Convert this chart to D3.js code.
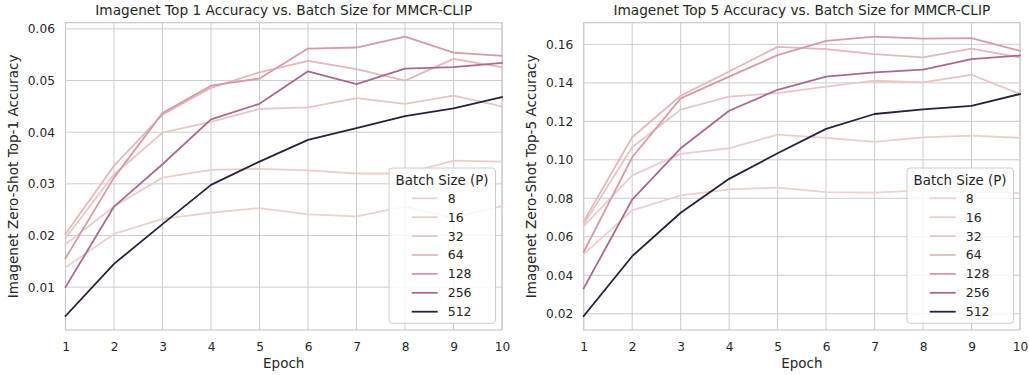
<!DOCTYPE html>
<html>
<head>
<meta charset="utf-8">
<script src="https://cdn.jsdelivr.net/npm/d3@7"></script>
<style>
  body { margin: 0; background: #fff; }
  text { font-family: "DejaVu Sans", sans-serif; fill: #262626; }
</style>
</head>
<body>
<svg id="chart" width="1029" height="375"></svg>
<script>
// Epochs en batch sizes
var epochs = [1, 2, 3, 4, 5, 6, 7, 8, 9, 10]
var batchSizes = [8, 16, 32, 64, 128, 256, 512]

// Top 1 accuracy per batch size
var top1_b8   = [0.0138, 0.0203, 0.0232, 0.0244, 0.0253, 0.0241, 0.0237, 0.0256, 0.0234, 0.0257]
var top1_b16  = [0.0183, 0.0256, 0.0312, 0.0327, 0.0329, 0.0326, 0.0320, 0.0320, 0.0345, 0.0343]
var top1_b32  = [0.0195, 0.0318, 0.0399, 0.0420, 0.0445, 0.0448, 0.0466, 0.0455, 0.0471, 0.0450]
var top1_b64  = [0.0203, 0.0335, 0.0434, 0.0486, 0.0516, 0.0538, 0.0522, 0.0500, 0.0542, 0.0526]
var top1_b128 = [0.0156, 0.0312, 0.0437, 0.0490, 0.0504, 0.0562, 0.0564, 0.0585, 0.0554, 0.0548]
var top1_b256 = [0.0100, 0.0256, 0.0338, 0.0425, 0.0455, 0.0518, 0.0493, 0.0523, 0.0526, 0.0534]
var top1_b512 = [0.0044, 0.0145, 0.0222, 0.0298, 0.0343, 0.0385, 0.0408, 0.0431, 0.0446, 0.0468]

// Top 5 accuracy per batch size
var top5_b8   = [0.0509, 0.0737, 0.0815, 0.0846, 0.0855, 0.0832, 0.0829, 0.0841, 0.0835, 0.0827]
var top5_b16  = [0.0655, 0.0919, 0.1031, 0.1060, 0.1131, 0.1114, 0.1093, 0.1117, 0.1126, 0.1114]
var top5_b32  = [0.0665, 0.1065, 0.1261, 0.1328, 0.1347, 0.1380, 0.1411, 0.1402, 0.1442, 0.1342]
var top5_b64  = [0.0680, 0.1117, 0.1333, 0.1459, 0.1587, 0.1575, 0.1549, 0.1532, 0.1578, 0.1532]
var top5_b128 = [0.0521, 0.1013, 0.1319, 0.1432, 0.1544, 0.1618, 0.1640, 0.1630, 0.1632, 0.1566]
var top5_b256 = [0.0332, 0.0793, 0.1060, 0.1255, 0.1364, 0.1432, 0.1454, 0.1469, 0.1523, 0.1542]
var top5_b512 = [0.0188, 0.0499, 0.0725, 0.0901, 0.1034, 0.1161, 0.1238, 0.1262, 0.1280, 0.1342]

var top1Ticks = [0.01, 0.02, 0.03, 0.04, 0.05, 0.06]
var top5Ticks = [0.02, 0.04, 0.06, 0.08, 0.10, 0.12, 0.14, 0.16]

var svg = d3.select("#chart")

// seaborn "ch:" cubehelix kleuren (light .85 -> dark .15)
function cubehelix(x) {
  var a = 0.8 * x * (1 - x) / 2
  var phi = 2 * Math.PI * (0.4 * x)
  var c = Math.cos(phi), s = Math.sin(phi)
  var r = x + a * (-0.14861 * c + 1.78277 * s)
  var g = x + a * (-0.29227 * c - 0.90649 * s)
  var b = x + a * (1.97294 * c)
  var f = function(v) { return Math.round(Math.max(0, Math.min(1, v)) * 255) }
  return d3.rgb(f(r), f(g), f(b)).formatHex()
}
var hueNorm = d3.scaleLinear().domain([8, 512]).range([0.85, 0.15])
var color = function(b) { return cubehelix(hueNorm(b)) }

function drawPanel(opts) {
  var x0 = opts.left, x1 = opts.right, y0 = 22.7, y1 = 330

  var lo = d3.min(opts.series, function(s) { return d3.min(s) })
  var hi = d3.max(opts.series, function(s) { return d3.max(s) })
  var pad = (hi - lo) * 0.05

  var x = d3.scaleLinear().domain([1, 10]).range([x0, x1])
  var y = d3.scaleLinear().domain([lo - pad, hi + pad]).range([y1, y0])

  var g = svg.append("g")

  // gridlijnen
  g.append("g").selectAll("line")
    .data(epochs)
    .enter().append("line")
      .attr("x1", function(d) { return x(d) }).attr("x2", function(d) { return x(d) })
      .attr("y1", y0).attr("y2", y1)
      .style("stroke", "#cccccc").style("stroke-width", 1)

  g.append("g").selectAll("line")
    .data(opts.ticks)
    .enter().append("line")
      .attr("x1", x0).attr("x2", x1)
      .attr("y1", function(d) { return y(d) }).attr("y2", function(d) { return y(d) })
      .style("stroke", "#cccccc").style("stroke-width", 1)

  // assen
  var xAxis = g.append("g")
    .attr("transform", "translate(0," + y1 + ")")
    .call(d3.axisBottom(x).tickValues(epochs).tickSize(0).tickPadding(12.3).tickFormat(d3.format("d")))
  var yAxis = g.append("g")
    .attr("transform", "translate(" + x0 + ",0)")
    .call(d3.axisLeft(y).tickValues(opts.ticks).tickSize(0).tickPadding(10.5).tickFormat(d3.format(".2f")))
  ;[xAxis, yAxis].forEach(function(a) {
    a.select(".domain").remove()
    a.selectAll("text").style("font-size", "12.2px").style("fill", "#262626")
      .style("font-family", "DejaVu Sans, sans-serif")
  })

  // frame
  g.append("rect")
    .attr("x", x0).attr("y", y0)
    .attr("width", x1 - x0).attr("height", y1 - y0)
    .style("fill", "none").style("stroke", "#cccccc").style("stroke-width", 1.25)

  // lijnen
  var line = d3.line()
    .x(function(d, i) { return x(epochs[i]) })
    .y(function(d) { return y(d) })

  g.append("g").selectAll("path")
    .data(opts.series)
    .enter().append("path")
      .attr("d", line)
      .style("fill", "none")
      .style("stroke", function(d, i) { return color(batchSizes[i]) })
      .style("stroke-width", 1.8)
      .style("stroke-linejoin", "round")
      .style("stroke-linecap", "square")

  // titels
  g.append("text")
    .attr("x", (x0 + x1) / 2).attr("y", 15)
    .attr("text-anchor", "middle")
    .style("font-size", "13.7px")
    .text(opts.title)

  g.append("text")
    .attr("x", (x0 + x1) / 2).attr("y", 368)
    .attr("text-anchor", "middle")
    .style("font-size", "13.5px")
    .text("Epoch")

  g.append("text")
    .attr("transform", "translate(" + (x0 - 47.5) + "," + ((y0 + y1) / 2) + ") rotate(-90)")
    .attr("text-anchor", "middle")
    .style("font-size", "13.6px")
    .text(opts.ylabel)

  // legenda
  var lx = x1 - 113, ly = 168
  var legend = g.append("g").attr("transform", "translate(" + lx + "," + ly + ")")
  legend.append("rect")
    .attr("width", 106.5).attr("height", 155.3)
    .attr("rx", 3).attr("ry", 3)
    .style("fill", "#ffffff").style("fill-opacity", 0.8)
    .style("stroke", "#cccccc").style("stroke-width", 1)
  legend.append("text")
    .attr("x", 53).attr("y", 16.5)
    .attr("text-anchor", "middle")
    .style("font-size", "13.4px")
    .text("Batch Size (P)")

  var item = legend.selectAll(".item")
    .data(batchSizes)
    .enter().append("g")
      .attr("class", "item")
      .attr("transform", function(d, i) { return "translate(0," + (34.7 + i * 18.9) + ")" })
  item.append("line")
    .attr("x1", 22.7).attr("x2", 48.7)
    .attr("y1", -4.4).attr("y2", -4.4)
    .style("stroke", function(d) { return color(d) })
    .style("stroke-width", 1.8)
  item.append("text")
    .attr("x", 58.7).attr("y", 0)
    .style("font-size", "12.5px")
    .text(function(d) { return d })
}

drawPanel({
  left: 65.5, right: 502,
  series: [top1_b8, top1_b16, top1_b32, top1_b64, top1_b128, top1_b256, top1_b512],
  ticks: top1Ticks,
  title: "Imagenet Top 1 Accuracy vs. Batch Size for MMCR-CLIP",
  ylabel: "Imagenet Zero-Shot Top-1 Accuracy"
})

drawPanel({
  left: 583.7, right: 1020,
  series: [top5_b8, top5_b16, top5_b32, top5_b64, top5_b128, top5_b256, top5_b512],
  ticks: top5Ticks,
  title: "Imagenet Top 5 Accuracy vs. Batch Size for MMCR-CLIP",
  ylabel: "Imagenet Zero-Shot Top-5 Accuracy"
})
</script>
</body>
</html>
